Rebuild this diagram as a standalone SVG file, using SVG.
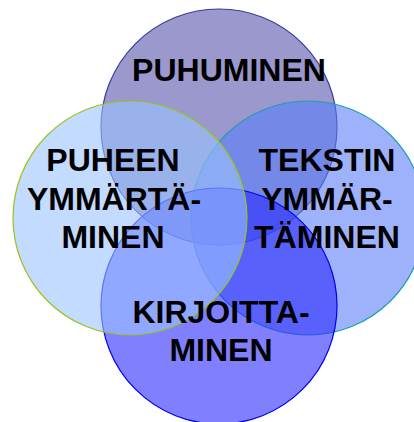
<svg xmlns="http://www.w3.org/2000/svg" width="414" height="422" viewBox="0 0 414 422">
<style>
.c{fill-opacity:0.6;stroke-width:1.2}
.t{font-family:"Liberation Sans",Arial,sans-serif;font-weight:bold;font-size:32px;fill:#000;text-anchor:middle}
</style>
<rect width="414" height="422" fill="#fff"/>
<g id="puhuminen"><circle class="c" cx="219" cy="127" r="118" fill="#5753aa" stroke="#3a3a9a"/></g>
<g id="tekstin"><circle class="c" cx="308" cy="218" r="117" fill="#5c7ef8" stroke="#1f9fae"/></g>
<g id="kirjoittaminen"><circle class="c" cx="219" cy="306" r="118" fill="#2b2bff" stroke="#0000ee"/></g>
<g id="puheen"><circle class="c" cx="130" cy="218" r="117" fill="#9bc3ff" fill-opacity="0.5" stroke="#99c31a"/></g>
<g id="labels">
<text class="t" x="229" y="81">PUHUMINEN</text>
<text class="t" x="113" y="171">PUHEEN</text>
<text class="t" x="114" y="210">YMMÄRTÄ-</text>
<text class="t" x="113" y="248">MINEN</text>
<text class="t" x="327" y="171">TEKSTIN</text>
<text class="t" x="327" y="210">YMMÄR-</text>
<text class="t" x="327" y="248">TÄMINEN</text>
<text class="t" x="221" y="323">KIRJOITTA-</text>
<text class="t" x="221" y="361">MINEN</text>
</g>
</svg>
